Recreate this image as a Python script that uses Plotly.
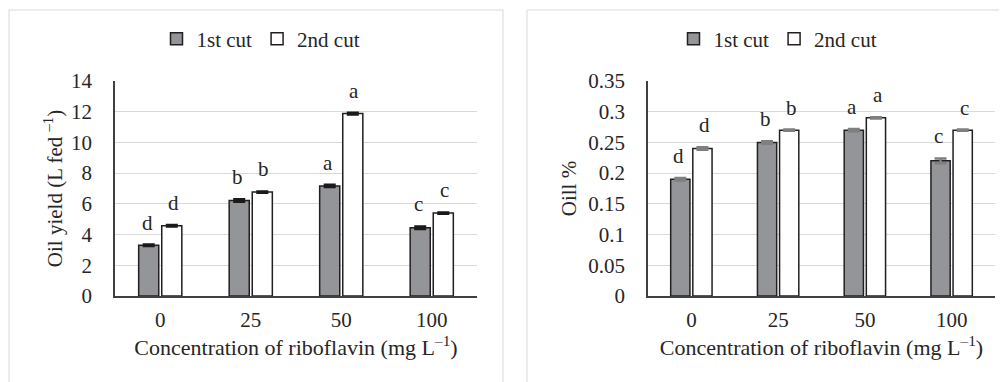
import plotly.graph_objects as go

categories = ["0", "25", "50", "100"]

yield_1st = [3.3, 6.22, 7.17, 4.45]
yield_2nd = [4.57, 6.77, 11.88, 5.4]
yield_1st_err = [0.05, 0.08, 0.08, 0.08]
yield_2nd_err = [0.05, 0.04, 0.06, 0.04]
yield_1st_letters = ["d", "b", "a", "c"]
yield_2nd_letters = ["d", "b", "a", "c"]

oil_1st = [0.19, 0.25, 0.27, 0.22]
oil_2nd = [0.24, 0.27, 0.29, 0.27]
oil_1st_err = [0.002, 0.002, 0.002, 0.004]
oil_2nd_err = [0.002, 0.001, 0.001, 0.001]
oil_1st_letters = ["d", "b", "a", "c"]
oil_2nd_letters = ["d", "b", "a", "c"]

W, H = 1007, 382
OFF = 8  # page body margin offset
FONT = "Liberation Serif, Times New Roman, serif"
GRAY = "#939598"
EDGE = "#231f20"
TXT = "#262626"
FS = 21

def px(x):
    return (x - OFF) / W

def py(y):
    return 1 - (y - OFF) / H

fig = go.Figure()

def add_pair(v1, e1, v2, e2, xa, ya, leg, errcol):
    fig.add_trace(go.Bar(
        x=categories, y=v1, name="1st cut", xaxis=xa, yaxis=ya, legend=leg,
        marker=dict(color=GRAY, line=dict(color=EDGE, width=1.5)),
        error_y=dict(type="data", array=e1, color=errcol, thickness=2.5, width=6),
    ))
    fig.add_trace(go.Bar(
        x=categories, y=v2, name="2nd cut", xaxis=xa, yaxis=ya, legend=leg,
        marker=dict(color="white", line=dict(color=EDGE, width=1.5)),
        error_y=dict(type="data", array=e2, color=errcol, thickness=2.5, width=6),
    ))

add_pair(yield_1st, yield_1st_err, yield_2nd, yield_2nd_err, "x", "y", "legend", "#1a1a1a")
add_pair(oil_1st, oil_1st_err, oil_2nd, oil_2nd_err, "x2", "y2", "legend2", "#7f7f7f")

annotations = []
def add_letters(vals, errs, letters, xref, yref, shift):
    # category axes: annotation x given as the category index
    for i, (v, e, t) in enumerate(zip(vals, errs, letters)):
        annotations.append(dict(
            x=i, y=v + e, xref=xref, yref=yref, text=t, showarrow=False,
            xshift=shift, yshift=8, yanchor="bottom", xanchor="center",
            font=dict(family=FONT, size=FS, color=TXT),
        ))

add_letters(yield_1st, yield_1st_err, yield_1st_letters, "x", "y", -13)
add_letters(yield_2nd, yield_2nd_err, yield_2nd_letters, "x", "y", 13)
add_letters(oil_1st, oil_1st_err, oil_1st_letters, "x2", "y2", -13)
add_letters(oil_2nd, oil_2nd_err, oil_2nd_letters, "x2", "y2", 13)

ydom = [py(296), py(81)]

axis_font = dict(family=FONT, size=FS, color=TXT)
common_x = dict(
    type="category", range=[-0.5, 3.5], autorange=False, automargin=False,
    showline=True, linecolor="#404040", linewidth=1.5, showgrid=False,
    tickfont=axis_font, ticks="", ticklabelstandoff=4,
    title_font=dict(family=FONT, size=22, color=TXT), title_standoff=7,
)
common_y = dict(
    automargin=False,
    showline=True, linecolor="#404040", linewidth=1.5, showgrid=True,
    gridcolor="#d9d9d9", gridwidth=1, zeroline=False,
    tickfont=axis_font, ticks="", ticklabelstandoff=17,
    title_font=dict(family=FONT, size=FS, color=TXT),
)

legend_font = dict(family=FONT, size=FS, color=TXT)

fig.update_layout(
    width=W, height=H,
    margin=dict(l=0, r=0, t=0, b=0, autoexpand=False),
    paper_bgcolor="white", plot_bgcolor="white",
    barmode="group", bargap=0.49, bargroupgap=0.13,
    font=dict(family=FONT, color=TXT),
    xaxis=dict(domain=[px(115), px(477)], anchor="y",
               title_text="Concentration of riboflavin (mg L<sup>–1</sup>)", **common_x),
    yaxis=dict(domain=ydom, anchor="x", range=[0, 14], dtick=2,
               title_text="Oil yield (L fed <sup>–1</sup>)", title_standoff=3, **common_y),
    xaxis2=dict(domain=[px(648), px(995)], anchor="y2",
                title_text="Concentration of riboflavin (mg L<sup>–1</sup>)", **common_x),
    yaxis2=dict(domain=ydom, anchor="x2", range=[0, 0.35], dtick=0.05,
                tickformat="~g", title_text="Oill %", title_standoff=6, **common_y),
    legend=dict(orientation="h", x=px(261), xanchor="center", y=py(39), yanchor="middle",
                font=legend_font, bgcolor="rgba(0,0,0,0)"),
    legend2=dict(orientation="h", x=px(778), xanchor="center", y=py(39), yanchor="middle",
                 font=legend_font, bgcolor="rgba(0,0,0,0)"),
    annotations=annotations,
    shapes=[
        dict(type="rect", xref="paper", yref="paper", x0=px(9), x1=px(503),
             y0=-0.2, y1=py(10), line=dict(color="#d9d9d9", width=1), layer="below"),
        dict(type="rect", xref="paper", yref="paper", x0=px(527), x1=1.2,
             y0=-0.2, y1=py(10), line=dict(color="#d9d9d9", width=1), layer="below"),
    ],
)

fig.write_html("out.html")
